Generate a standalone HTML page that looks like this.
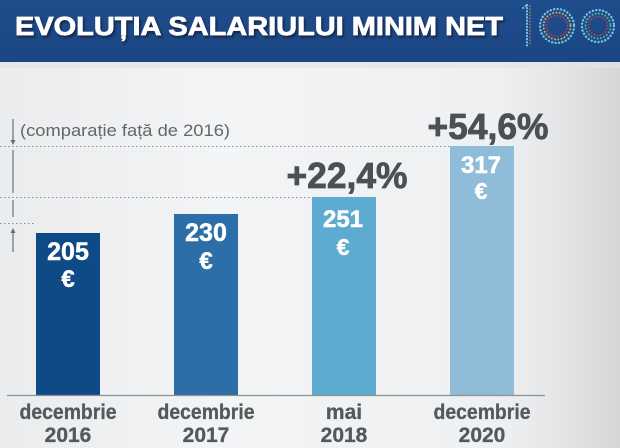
<!DOCTYPE html>
<html><head><meta charset="utf-8">
<style>
html,body{margin:0;padding:0;width:620px;height:448px;overflow:hidden;background:#eef0f1;}
svg{display:block}
</style></head>
<body>
<svg width="620" height="448" viewBox="0 0 620 448" xmlns="http://www.w3.org/2000/svg">
<defs>
<linearGradient id="bg" x1="0" y1="0" x2="1" y2="0">
<stop offset="0" stop-color="#eaeced"/>
<stop offset="0.35" stop-color="#f3f4f5"/>
<stop offset="0.8" stop-color="#eef0f1"/>
<stop offset="0.9" stop-color="#e4e6e8"/>
<stop offset="1" stop-color="#d4d6d8"/>
</linearGradient>
<linearGradient id="hd" x1="0" y1="0" x2="0" y2="1">
<stop offset="0" stop-color="#1f4c8b"/>
<stop offset="1" stop-color="#1b4684"/>
</linearGradient>
<filter id="sh" x="-5%" y="-20%" width="110%" height="160%">
<feDropShadow dx="1.5" dy="2" stdDeviation="1" flood-color="#0a1a35" flood-opacity="0.8"/>
</filter>
</defs>
<rect x="0" y="0" width="620" height="448" fill="url(#bg)"/>
<rect x="0" y="0" width="620" height="62" fill="url(#hd)"/>
<rect x="0" y="62" width="620" height="6" fill="#e2e4e6" opacity="0.7"/>

<text x="15" y="35" font-family="Liberation Sans, sans-serif" font-weight="bold" font-size="26" fill="#ffffff" stroke="#ffffff" stroke-width="0.7" textLength="488" lengthAdjust="spacingAndGlyphs" filter="url(#sh)">EVOLUȚIA SALARIULUI MINIM NET</text>

<!-- 100 logo -->
<g fill="none" stroke-linecap="round">
<line x1="527" y1="5" x2="527" y2="48" stroke="#7fc6e6" stroke-width="2.2" stroke-dasharray="0.1 3"/>
<line x1="530" y1="6" x2="530" y2="46" stroke="#d9b14a" stroke-width="1.6" stroke-dasharray="0.1 3" opacity="0.7"/>
<line x1="523" y1="8" x2="527" y2="5" stroke="#7fc6e6" stroke-width="2" stroke-dasharray="0.1 3"/>
<circle cx="557" cy="26" r="17" stroke="#6fc3e8" stroke-width="2.4" stroke-dasharray="0.1 3.4"/>
<circle cx="557" cy="26" r="13.5" stroke="#e2c24a" stroke-width="2" stroke-dasharray="0.1 3.2" opacity="0.85"/>
<circle cx="557" cy="26" r="10.5" stroke="#c9405a" stroke-width="1.8" stroke-dasharray="0.1 3" opacity="0.8"/>
<circle cx="598" cy="26" r="16" stroke="#6fc3e8" stroke-width="2.4" stroke-dasharray="0.1 3.4"/>
<circle cx="598" cy="26" r="12.5" stroke="#6ccf7a" stroke-width="2" stroke-dasharray="0.1 3.2" opacity="0.8"/>
<circle cx="598" cy="26" r="9.5" stroke="#c9405a" stroke-width="1.8" stroke-dasharray="0.1 3" opacity="0.8"/>
</g>

<!-- annotation -->
<text x="20" y="136" font-family="Liberation Sans, sans-serif" font-size="17" fill="#63676b" textLength="210" lengthAdjust="spacingAndGlyphs">(comparație față de 2016)</text>
<g stroke="#8a8e92" stroke-width="1" stroke-dasharray="1.5 2.5">
<line x1="0" y1="146.5" x2="450" y2="146.5"/>
<line x1="0" y1="197.5" x2="312" y2="197.5"/>
<line x1="0" y1="223.5" x2="36" y2="223.5"/>
</g>
<g stroke="#6b6f73" stroke-width="1.2" fill="#6b6f73">
<line x1="13" y1="119" x2="13" y2="142"/>
<path d="M10.5 140 L13 145 L15.5 140 Z" stroke="none"/>
<line x1="13" y1="150" x2="13" y2="193"/>
<line x1="13" y1="200" x2="13" y2="217"/>
<line x1="13" y1="231" x2="13" y2="252"/>
<path d="M10.5 233 L13 228 L15.5 233 Z" stroke="none"/>
</g>

<!-- bars -->
<rect x="36" y="233" width="64" height="162" fill="#0e4b86"/>
<rect x="174" y="214" width="64" height="181" fill="#2b6ea8"/>
<rect x="312" y="197" width="64" height="198" fill="#5dabd0"/>
<rect x="450" y="146" width="64" height="249" fill="#8fbcd8"/>
<line x1="7" y1="395.5" x2="545" y2="395.5" stroke="#8d9196" stroke-width="1.2"/>

<g font-family="Liberation Sans, sans-serif" font-weight="bold" fill="#ffffff" stroke="#ffffff" stroke-width="0.5" text-anchor="middle">
<text x="68" y="260" font-size="25">205</text>
<text x="68" y="287" font-size="24">€</text>
<text x="206" y="241" font-size="25">230</text>
<text x="206" y="269" font-size="24">€</text>
<text x="343" y="227" font-size="24">251</text>
<text x="343" y="255" font-size="23">€</text>
<text x="481" y="173" font-size="24">317</text>
<text x="481" y="199" font-size="23">€</text>
</g>

<g font-family="Liberation Sans, sans-serif" font-weight="bold" fill="#4c4f53" stroke="#4c4f53" stroke-width="0.8" text-anchor="middle">
<text x="347" y="188" font-size="36" textLength="121" lengthAdjust="spacingAndGlyphs">+22,4%</text>
<text x="488" y="139" font-size="36" textLength="121" lengthAdjust="spacingAndGlyphs">+54,6%</text>
</g>

<g font-family="Liberation Sans, sans-serif" font-weight="bold" fill="#55595d" stroke="#55595d" stroke-width="0.3" text-anchor="middle" font-size="21">
<text x="68" y="419" textLength="97" lengthAdjust="spacingAndGlyphs">decembrie</text>
<text x="68" y="442">2016</text>
<text x="206" y="419" textLength="97" lengthAdjust="spacingAndGlyphs">decembrie</text>
<text x="206" y="442">2017</text>
<text x="344" y="419">mai</text>
<text x="344" y="442">2018</text>
<text x="482" y="419" textLength="97" lengthAdjust="spacingAndGlyphs">decembrie</text>
<text x="482" y="442">2020</text>
</g>
</svg>
</body></html>
